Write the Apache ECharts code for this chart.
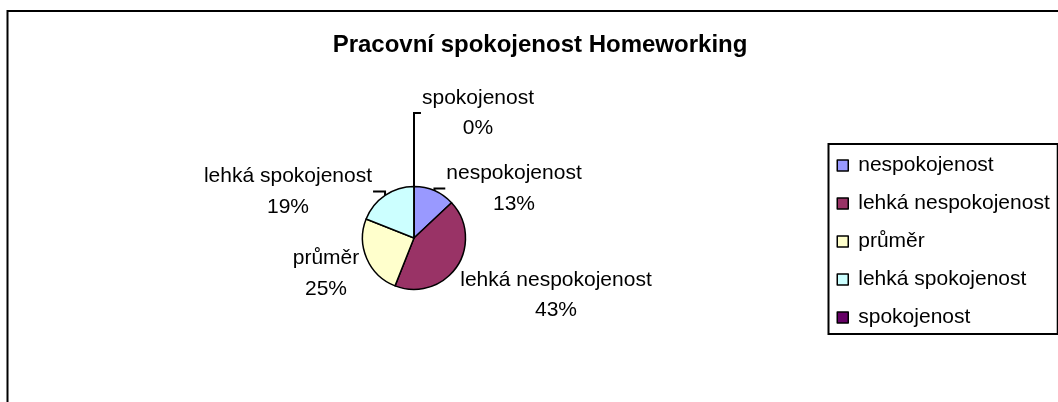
<!DOCTYPE html>
<html>
<head>
<meta charset="utf-8">
<script src="https://cdn.jsdelivr.net/npm/echarts@6/dist/echarts.min.js"></script>
<style>
  html, body { margin: 0; padding: 0; background: #fff; }
  #chart { width: 1058px; height: 402px; }
</style>
</head>
<body>
<div id="chart"></div>
<script>
// Survey answers and their shares (%)
const categories = ['nespokojenost', 'lehká nespokojenost', 'průměr', 'lehká spokojenost', 'spokojenost'];
const shares = [13, 43, 25, 19, 0];
const sliceColors = ['#9999FF', '#993366', '#FFFFCC', '#CCFFFF', '#660066'];
const chartTitle = 'Pracovní spokojenost Homeworking';

// Layout settings
const FONT = "'Liberation Sans', Arial, sans-serif";
const PIE_CENTER = [414, 238];
const PIE_RADIUS = 51.5;
// centre of each data label block, relative to the pie centre
const labelOffsets = [[100, -49.5], [142, 57], [-88, 35.5], [-126, -46.5], [64, -125]];
// which labels get a leader line back to their slice
const leaderShown = [true, false, false, true, true];

const pieData = categories.map((name, i) => ({
  name: name,
  value: shares[i],
  itemStyle: { color: sliceColors[i] },
  labelLine: { show: leaderShown[i] }
}));

const chart = echarts.init(document.getElementById('chart'), null, { renderer: 'canvas' });

chart.setOption({
  backgroundColor: '#fff',
  animation: false,
  title: {
    text: chartTitle,
    left: 535,
    top: 28,
    textAlign: 'center',
    textStyle: { fontFamily: FONT, fontSize: 24, fontWeight: 'bold', color: '#000' }
  },
  legend: {
    orient: 'vertical',
    left: 828.5,
    top: 144,
    padding: [11, 8, 6, 8],
    itemWidth: 11,
    itemHeight: 11,
    itemGap: 17,
    icon: 'rect',
    borderColor: '#000',
    borderWidth: 2,
    selectedMode: false,
    itemStyle: { borderColor: '#000', borderWidth: 1.5 },
    textStyle: { fontFamily: FONT, fontSize: 21, color: '#000', lineHeight: 21, padding: [0, 0, 0, 5] }
  },
  graphic: [{
    type: 'rect',
    silent: true,
    z: -1,
    shape: { x: 7.5, y: 11, width: 1200, height: 600 },
    style: { fill: 'none', stroke: '#000', lineWidth: 2 }
  }],
  series: [{
    type: 'pie',
    center: PIE_CENTER,
    radius: PIE_RADIUS,
    startAngle: 90,
    clockwise: true,
    avoidLabelOverlap: false,
    percentPrecision: 0,
    silent: true,
    itemStyle: { borderColor: '#000', borderWidth: 1.5 },
    label: {
      show: true,
      position: 'outside',
      formatter: '{b}\n{d}%',
      fontFamily: FONT,
      fontSize: 21,
      lineHeight: 30.5,
      color: '#000'
    },
    labelLine: {
      show: true,
      smooth: false,
      lineStyle: { color: '#000', width: 2 }
    },
    labelLayout: function (p) {
      const i = p.dataIndex;
      const cx = PIE_CENTER[0] + labelOffsets[i][0];
      const cy = PIE_CENTER[1] + labelOffsets[i][1];
      const out = { x: cx, y: cy, align: 'center', verticalAlign: 'middle' };
      const pts = p.labelLinePoints;
      if (leaderShown[i] && pts && pts.length) {
        const edge = pts[0];
        const half = p.labelRect.width / 2;
        const labelOnRight = cx > edge[0];
        const tx = labelOnRight ? cx - half - 1 : cx + half + 1;
        out.labelLinePoints = [edge, [edge[0], cy], [tx, cy]];
      }
      return out;
    },
    data: pieData
  }]
});
</script>
</body>
</html>
